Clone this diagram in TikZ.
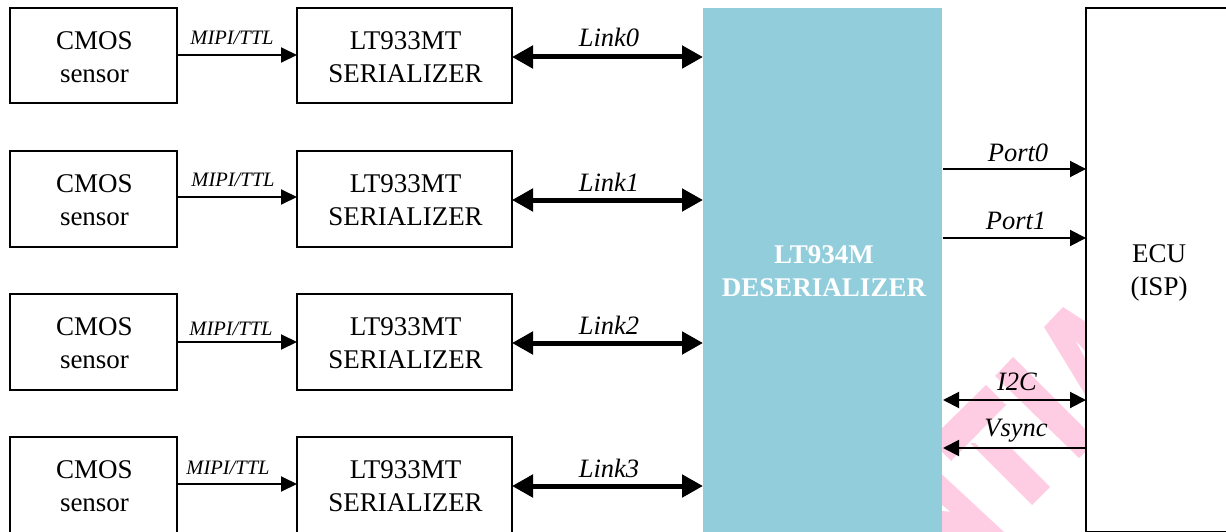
\documentclass[tikz,border=0pt]{standalone}
\usepackage{fontspec}
\setmainfont{Liberation Serif}
\usetikzlibrary{arrows.meta}
\definecolor{wm}{HTML}{FFCDE3}
\definecolor{deser}{HTML}{92CDDC}
\newcommand{\boxlines}[2]{\hspace{2pt}\parbox{160pt}{\centering\vspace*{3pt}#1\\#2}}
\tikzset{
  x=1pt,y=-1pt,
  blockbox/.style={draw=black,line width=2pt,outer sep=0pt,fill=white,align=center,font=\fontsize{27}{32.5}\selectfont,anchor=north west,inner sep=0pt},
  sensorbox/.style={blockbox,minimum width=167pt,minimum height=95.5pt},
  serbox/.style={blockbox,minimum width=215pt,minimum height=95.5pt},
  thin link/.style={line width=2pt,-{Triangle[length=16pt,width=15pt]}},
  thick link/.style={line width=5pt,{Triangle[length=21pt,width=22pt]}-{Triangle[length=21pt,width=22pt]}},
  port/.style={line width=2pt,-{Triangle[length=16pt,width=16pt]}},
  both/.style={line width=2pt,{Triangle[length=16pt,width=16pt]}-{Triangle[length=16pt,width=16pt]}},
  tag/.style={font=\itshape\fontsize{26.5}{28}\selectfont,inner sep=0pt},
  smalltag/.style={font=\itshape\fontsize{20.5}{22}\selectfont,inner sep=0pt},
  mark strip/.style={fill=wm,draw=none}
}
\begin{document}
\begin{tikzpicture}
\useasboundingbox (0,0) rectangle (1226,532);
\clip (0,0) rectangle (1226,532);
% watermark
\fill[mark strip] (1063,307) -- (1086,322) -- (1086,352) -- (1075,340) -- (1086,360) -- (1086,396) -- (1044,327) -- cycle;
\fill[mark strip] (1013,357) -- (995,376) -- (1079,458) -- (1086,451) -- (1086,430) -- cycle;
\fill[mark strip] (986,385) -- (1006,405) -- (951,461) -- (930,440) -- cycle;
\fill[mark strip] (970,443) -- (975,443) -- (980,448) -- (1011,448) -- (1050,487) -- (1032,505) -- cycle;
\fill[mark strip] (935,468) -- (1004,532) -- (935,532) -- (935,510.5) -- (950.3,511.7) -- (942,505) -- (935,498) -- cycle;
% blocks
\node[sensorbox] (s0) at (10,8) {\boxlines{CMOS}{sensor}};
\node[sensorbox] (s1) at (10,151) {\boxlines{CMOS}{sensor}};
\node[sensorbox] (s2) at (10,294) {\boxlines{CMOS}{sensor}};
\node[sensorbox] (s3) at (10,437) {\boxlines{CMOS}{sensor}};
\node[serbox] (z0) at (297,8) {\boxlines{LT933MT}{SERIALIZER}};
\node[serbox] (z1) at (297,151) {\boxlines{LT933MT}{SERIALIZER}};
\node[serbox] (z2) at (297,294) {\boxlines{LT933MT}{SERIALIZER}};
\node[serbox] (z3) at (297,437) {\boxlines{LT933MT}{SERIALIZER}};
\node[anchor=north west,fill=deser,minimum width=239pt,minimum height=524pt,inner sep=0pt,outer sep=0pt] (d) at (703,8) {};
\node[align=center,text=white,font=\bfseries\fontsize{27}{32.5}\selectfont] (dl) at (824,271) {LT934M\\DESERIALIZER};
\node[blockbox,minimum width=160pt,minimum height=524pt] (e) at (1086,8) {};
\node[align=center,font=\fontsize{27}{32.5}\selectfont] (el) at (1159,273) {ECU\\(ISP)};
% sensor to serializer
\foreach \i/\y in {0/55,1/197,2/342,3/484}{
  \coordinate (tp\i) at (240,\y);
  \draw[thin link] (s\i.east |- tp\i) -- (z\i.west |- tp\i);
}
\node[smalltag] (m0) at (232,38) {MIPI/TTL};
\node[smalltag] (m1) at (233,180) {MIPI/TTL};
\node[smalltag] (m2) at (231,329) {MIPI/TTL};
\node[smalltag] (m3) at (228,468) {MIPI/TTL};
% links
\foreach \i/\y in {0/57,1/200,2/343,3/486}{
  \coordinate (dp\i) at (703,\y);
  \draw[thick link] (z\i.east |- dp\i) -- (dp\i);
}
\node[tag] (l0) at (609,37) {Link0};
\node[tag] (l1) at (609,182) {Link1};
\node[tag] (l2) at (609,325) {Link2};
\node[tag] (l3) at (609,468) {Link3};
% ports
\coordinate (pa0) at (943,169);
\coordinate (pa1) at (943,238);
\coordinate (pa2) at (943,400);
\coordinate (pa3) at (943,448);
\draw[port] (pa0) -- (pa0 -| e.west);
\draw[port] (pa1) -- (pa1 -| e.west);
\draw[both] (pa2) -- (pa2 -| e.west);
\draw[port] (pa3 -| e.west) -- (pa3);
\node[tag] (p0) at (1018,153) {Port0};
\node[tag] (p1) at (1016,221) {Port1};
\node[tag] (p2) at (1017,382) {I2C};
\node[tag] (p3) at (1016,431) {Vsync};
\end{tikzpicture}
\end{document}
